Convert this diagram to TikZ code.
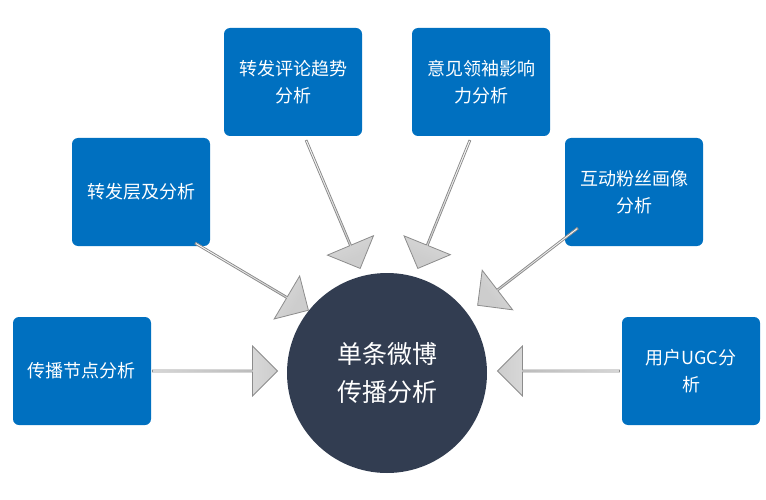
\documentclass[tikz,border=0pt]{standalone}
\usepackage{fontspec}
\setmainfont{Noto Sans CJK SC}
\usetikzlibrary{shapes.arrows,calc}
\begin{document}
\begin{tikzpicture}[x=1pt,y=-1pt,
 box/.style={fill={rgb,255:red,0;green,112;blue,192},rounded corners=6pt,minimum width=138pt,minimum height=108pt,text width=126pt,align=center,text=white,font=\fontsize{18}{27}\selectfont,inner sep=0pt},
 arr/.style={single arrow,draw={rgb,255:red,140;green,140;blue,140},line width=0.8pt,top color=white,bottom color={rgb,255:red,205;green,205;blue,205},minimum width=50pt,single arrow head extend=10pt,single arrow tip angle=90,inner sep=0pt,font=\tiny}]
\useasboundingbox (0,0) rectangle (766,500);
\node[box] (a) at (82,371) {传播节点分析};
\node[box] (b) at (141,192) {转发层及分析};
\node[box] (c) at (293,82) {转发评论趋势\\分析};
\node[box] (d) at (481,82) {意见领袖影响\\力分析};
\node[box] (e) at (634,192) {互动粉丝画像\\分析};
\node[box] (f) at (691,371) {用户UGC分\\析};
\node[circle,fill={rgb,255:red,50;green,61;blue,81},minimum size=200pt,text=white,align=center,font=\fontsize{25}{38}\selectfont] (g) at (387,373) {单条微博\\传播分析};
\foreach \k/\sx/\sy/\ex/\ey in {1/152/371/277/371, 2/620/371/498/371, 3/195/243/308/310, 4/578/228/478/305, 5/306/140/360/268, 6/470/140/418/268}{
  \path let \p1=($(\ex,\ey)-(\sx,\sy)$), \n1={atan2(\y1,\x1)}, \n2={veclen(\x1,\y1)} in
   node[arr,minimum height=\n2,rotate=\n1,shading angle=\n1+90] (ar\k) at ($(\sx,\sy)!0.5!(\ex,\ey)$) {};
}
\end{tikzpicture}
\end{document}
